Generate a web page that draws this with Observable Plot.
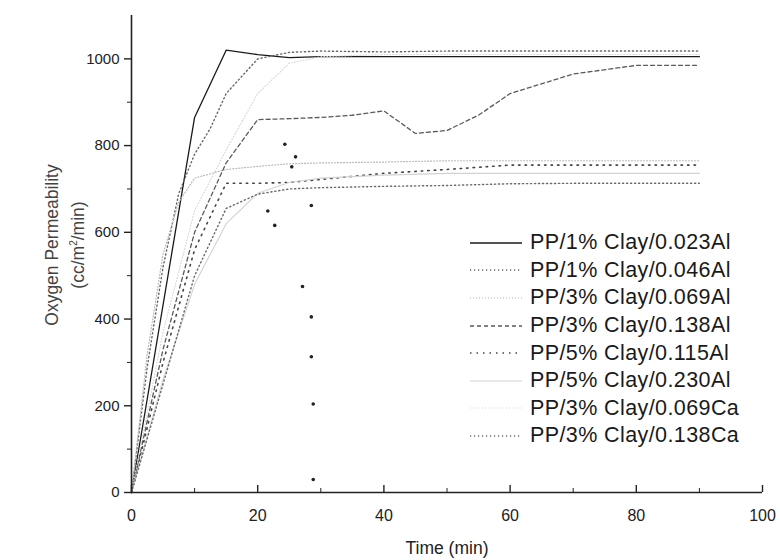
<!DOCTYPE html>
<html><head><meta charset="utf-8">
<script src="https://cdn.jsdelivr.net/npm/d3@7"></script>
<script src="https://cdn.jsdelivr.net/npm/@observablehq/plot@0.6"></script>
<style>
body{margin:0;background:#fff;}
#wrap{position:relative;width:780px;height:560px;font-family:"Liberation Sans",Arial,sans-serif;color:#222;}
#legend{position:absolute;left:468px;top:229px;}
.row{display:flex;align-items:center;height:27.6px;font-size:21.5px;letter-spacing:0.4px;color:#1a1a1a;white-space:nowrap;}
.row svg{width:56px;height:10px;margin-right:6px;flex:none;}
#ytitle{position:absolute;left:65px;top:245px;transform:translate(-50%,-50%) rotate(-90deg);text-align:center;font-size:17.5px;line-height:22px;white-space:nowrap;color:#444;}
#xtitle{position:absolute;left:447px;top:548px;transform:translate(-50%,-50%);font-size:17.5px;white-space:nowrap;color:#222;}
</style></head><body><div id="wrap"></div>
<script>
// ---- data ----
const seriesNames = [
  "PP/1% Clay/0.023Al", "PP/1% Clay/0.046Al", "PP/3% Clay/0.069Al", "PP/3% Clay/0.138Al",
  "PP/5% Clay/0.115Al", "PP/5% Clay/0.230Al", "PP/3% Clay/0.069Ca", "PP/3% Clay/0.138Ca"
];
const time_023Al = [0, 10, 15, 20, 25, 30, 40, 50, 60, 70, 80, 90];
const perm_023Al = [0, 865, 1020, 1010, 1003, 1005, 1005, 1005, 1005, 1005, 1005, 1005];
const time_046Al = [0, 2.5, 5, 7.5, 10, 12.5, 15, 20, 25, 30, 40, 50, 60, 70, 80, 90];
const perm_046Al = [0, 290, 520, 690, 780, 840, 920, 1000, 1015, 1018, 1016, 1018, 1018, 1018, 1018, 1018];
const time_069Al = [0, 2.5, 5, 7.5, 10, 15, 20, 25, 30, 40, 50, 60, 70, 80, 90];
const perm_069Al = [0, 320, 550, 670, 725, 745, 752, 758, 760, 762, 765, 765, 765, 765, 765];
const time_138Al = [0, 5, 10, 15, 20, 25, 30, 35, 40, 45, 50, 55, 60, 70, 80, 90];
const perm_138Al = [0, 330, 600, 760, 860, 862, 865, 870, 880, 828, 835, 870, 920, 965, 985, 985];
const time_115Al = [0, 5, 10, 15, 20, 25, 30, 40, 50, 60, 70, 80, 90];
const perm_115Al = [0, 300, 560, 713, 713, 715, 722, 736, 745, 755, 755, 755, 755];
const time_230Al = [0, 5, 10, 15, 20, 25, 30, 40, 50, 60, 70, 80, 90];
const perm_230Al = [0, 260, 480, 620, 690, 715, 725, 732, 736, 736, 736, 736, 736];
const time_069Ca = [0, 5, 10, 15, 20, 25, 30, 40, 60, 90];
const perm_069Ca = [0, 370, 650, 790, 920, 990, 1005, 1010, 1010, 1010];
const time_138Ca = [0, 5, 10, 15, 20, 25, 30, 40, 50, 60, 70, 80, 90];
const perm_138Ca = [0, 250, 500, 655, 688, 700, 703, 706, 708, 712, 713, 713, 713];
const strayTime = [21.6, 22.7, 24.3, 25.4, 26.0, 28.5, 27.1, 28.5, 28.5, 28.8, 28.8];
const strayPerm = [649, 616, 803, 751, 774, 662, 475, 405, 313, 204, 30];
const xMajorTicks = [0, 20, 40, 60, 80, 100];
const xMinorTicks = [10, 30, 50, 70, 90];
const yMajorTicks = [0, 200, 400, 600, 800, 1000];
const yMinorTicks = [100, 300, 500, 700, 900];

// ---- styles ----
const seriesStyles = [
  {stroke: "#1a1a1a", dash: null, width: 1.3},
  {stroke: "#666", dash: "1.2,2.8", width: 1.4},
  {stroke: "#b8b8b8", dash: "1,2", width: 1.2},
  {stroke: "#5a5a5a", dash: "4,3", width: 1.3},
  {stroke: "#444", dash: "1.5,5", width: 1.6},
  {stroke: "#d2d2d2", dash: null, width: 1.1},
  {stroke: "#d6d6d6", dash: "1,2", width: 1.1},
  {stroke: "#6a6a6a", dash: "1.2,2.8", width: 1.4}
];
const seriesData = [
  [time_023Al, perm_023Al], [time_046Al, perm_046Al], [time_069Al, perm_069Al], [time_138Al, perm_138Al],
  [time_115Al, perm_115Al], [time_230Al, perm_230Al], [time_069Ca, perm_069Ca], [time_138Ca, perm_138Ca]
].map(([ts, ps], i) => ts.map((t, j) => ({series: seriesNames[i], t, p: ps[j]})));
const strayPts = strayTime.map((t, i) => ({t, p: strayPerm[i]}));

const lineMarks = seriesData.map((rows, i) => Plot.line(rows, {
  x: "t", y: "p", stroke: seriesStyles[i].stroke, strokeWidth: seriesStyles[i].width,
  strokeDasharray: seriesStyles[i].dash || undefined
}));

const chart = Plot.plot({
  width: 780, height: 560,
  marginLeft: 131, marginRight: 18, marginTop: 15, marginBottom: 68,
  x: {domain: [0, 100], label: null},
  y: {domain: [0, 1100], label: null},
  style: {fontFamily: "'Liberation Sans', Arial, sans-serif", fontSize: "15px", color: "#222", background: "white"},
  marks: [
    ...lineMarks,
    Plot.dot(strayPts, {x: "t", y: "p", r: 1.8, fill: "#222", stroke: "none"}),
    Plot.ruleX([0], {stroke: "#222", strokeWidth: 1.6}),
    Plot.ruleY([0], {stroke: "#222", strokeWidth: 1.6}),
    Plot.axisY(yMajorTicks, {tickSize: 7, tickPadding: 5, fontSize: 15, strokeWidth: 1.4, tickFormat: d => String(d), label: null}),
    Plot.axisY(yMinorTicks, {tickSize: 4, tickFormat: () => "", label: null}),
    Plot.axisX(xMajorTicks, {tickSize: -7, tickFormat: () => "", strokeWidth: 1.4, label: null}),
    Plot.axisX(xMinorTicks, {tickSize: -4, tickFormat: () => "", label: null}),
    Plot.axisX(xMajorTicks, {tickSize: 0, tickPadding: 17, fontSize: 16, tickFormat: d => String(d), label: null})
  ]
});

const wrap = document.getElementById("wrap");
wrap.appendChild(chart);

const legend = document.createElement("div");
legend.id = "legend";
seriesNames.forEach((name, i) => {
  const s = seriesStyles[i];
  const row = document.createElement("div");
  row.className = "row";
  row.innerHTML = `<svg viewBox="0 0 56 10"><line x1="2" y1="5" x2="54" y2="5" stroke="${s.stroke}" stroke-width="${s.width}" ${s.dash ? `stroke-dasharray="${s.dash}"` : ""}/></svg><span>${name}</span>`;
  legend.appendChild(row);
});
wrap.appendChild(legend);

const yt = document.createElement("div");
yt.id = "ytitle";
yt.innerHTML = "Oxygen Permeability<br>(cc/m<sup style='font-size:10px'>2</sup>/min)";
wrap.appendChild(yt);
const xt = document.createElement("div");
xt.id = "xtitle";
xt.textContent = "Time (min)";
wrap.appendChild(xt);
</script></body></html>
